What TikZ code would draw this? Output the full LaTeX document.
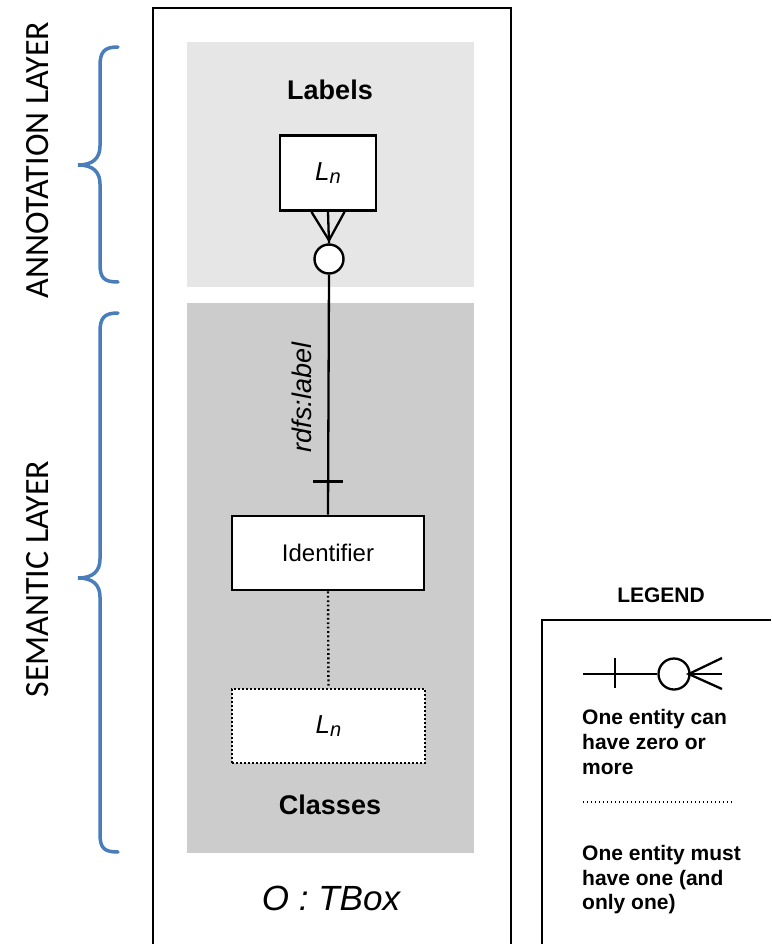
\documentclass[tikz,border=0pt]{standalone}
\usepackage{fontspec}
\setmainfont{Liberation Sans}
\newfontfamily\layerfont{Carlito}
\usetikzlibrary{calc}

\definecolor{annotgray}{HTML}{E6E6E6}
\definecolor{semgray}{HTML}{CCCCCC}
\definecolor{braceblue}{HTML}{4A7EBB}

\newcommand{\Lsub}{\textit{L\raisebox{-0.28ex}{\fontsize{20}{20}\selectfont n}}}

\begin{document}
\begin{tikzpicture}[x=1pt,y=-1pt,
  entity/.style={draw,line width=2.9pt,fill=white,inner sep=0pt,
    font=\fontsize{26}{30}\selectfont},
  dotbox/.style={draw,line width=2.2pt,dash pattern=on 1.8pt off 2.2pt,fill=white,inner sep=0pt,
    font=\fontsize{26}{30}\selectfont},
  relation/.style={line width=2.3pt},
  dotrel/.style={line width=2.4pt,dash pattern=on 1.8pt off 2.6pt},
  frame/.style={line width=2.5pt},
  brace/.style={draw=braceblue,line width=3.5pt,line cap=round},
  layertext/.style={rotate=90,font=\layerfont\fontsize{34}{40}\selectfont},
  heading/.style={font=\bfseries\fontsize{27}{32}\selectfont},
  legtext/.style={anchor=base west,inner sep=0pt,font=\bfseries\fontsize{21}{25}\selectfont}
]
\useasboundingbox (0,0) rectangle (771,944);

% layer backgrounds
\fill[annotgray] (187,42) rectangle (474,287);
\fill[semgray] (187,303) rectangle (474,853);

% TBox frame, open at the bottom
\draw[frame] (153,944) -- (153,8) -- (511,8) -- (511,944);

% headings
\node[heading] (labelshd) at (330,90) {Labels};
\node[heading] (classeshd) at (330,805) {Classes};
\node[font=\itshape\fontsize{35}{40}\selectfont] (tbox) at (331,898) {O : TBox};

% entities
\node[entity,minimum width=96pt,minimum height=75pt] (lab) at (328,173) {\Lsub};
\node[draw,circle,line width=2.4pt,fill=white,minimum size=29pt,inner sep=0pt] (circ) at (329,259) {};
\node[entity,minimum width=192pt,minimum height=74pt,font=\fontsize{24}{28}\selectfont] (id) at (328,553) {Identifier};
\node[dotbox,minimum width=193pt,minimum height=74pt] (cls) at (328.5,726) {\Lsub};

% crow's foot between label and circle
\coordinate (foot) at ($(circ.north)+(0,-3)$);
\draw[relation] ($(lab.south)+(-16.5,0)$) -- (foot) -- ($(lab.south)+(16.5,0)$);
\draw[relation] (lab.south) -- (circ.north);

% rdfs:label relation
\draw[relation] (circ.south) -- (id.north);
\draw[relation] ($(id.north)+(-15,-33)$) -- ++(30,0);
\node[rotate=90,font=\itshape\fontsize{27}{32}\selectfont] (rdfs) at (302,397.5) {rdfs:label};

% identifier to class
\draw[dotrel] (id.south) -- (cls.north);

% layer braces
\draw[brace] (118,47) .. controls (104,47) and (100,52) .. (100,66) -- (100,146)
  .. controls (100,158) and (93,165) .. (78,165)
  .. controls (93,165) and (100,172) .. (100,184) -- (100,264)
  .. controls (100,278) and (104,282) .. (118,282);
\draw[brace] (118,313) .. controls (104,313) and (100,318) .. (100,332) -- (100,559)
  .. controls (100,571) and (93,578) .. (78,578)
  .. controls (93,578) and (100,585) .. (100,597) -- (100,834)
  .. controls (100,848) and (104,852) .. (118,852);
\node[layertext] (annotlayer) at (38,160) {ANNOTATION LAYER};
\node[layertext] (semlayer) at (38,579) {SEMANTIC LAYER};

% legend
\node[font=\bfseries\fontsize{21}{25}\selectfont] (leghd) at (661,595) {LEGEND};
\draw[frame] (542,944) -- (542,620) -- (771,620);
\node[draw,circle,line width=2.3pt,minimum size=31pt,inner sep=0pt] (legcirc) at (674,674) {};
\coordinate (legstart) at (583,674);
\coordinate (legtick) at (615,674);
\coordinate (legf1) at (722,658);
\coordinate (legf2) at (722,674);
\coordinate (legf3) at (722,689);
\draw[relation] (legstart) -- (legcirc.west);
\draw[relation] ($(legtick)+(0,-16)$) -- ($(legtick)+(0,14)$);
\draw[relation] (legf1) -- ($(legcirc.east)+(-2,0)$) -- (legf3);
\draw[relation] (legcirc.east) -- (legf2);
\node[legtext] (l1) at (582,724.5) {One entity can};
\node[legtext] (l2) at (582,749.5) {have zero or};
\node[legtext] (l3) at (582,774.5) {more};
\coordinate (dotstart) at (583,802);
\coordinate (dotend) at (733,802);
\draw[line width=1.6pt,dash pattern=on 1.4pt off 2.6pt] (dotstart) -- (dotend);
\node[legtext] (l4) at (582,860.5) {One entity must};
\node[legtext] (l5) at (582,885.5) {have one (and};
\node[legtext] (l6) at (582,909.5) {only one)};
\end{tikzpicture}
\end{document}
